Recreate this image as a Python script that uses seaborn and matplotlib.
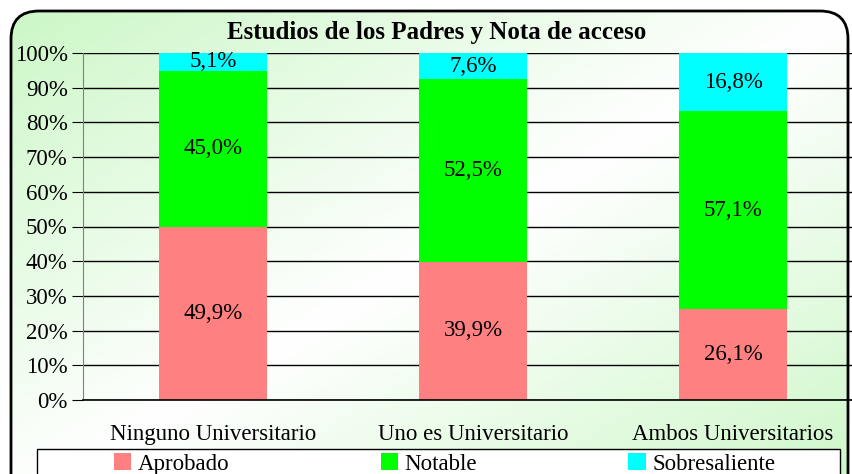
import numpy as np
import pandas as pd
import seaborn as sns
import matplotlib.pyplot as plt
from matplotlib.patches import FancyBboxPatch, Patch, Rectangle
from matplotlib.ticker import FixedLocator

# data
categorias = ["Ninguno Universitario", "Uno es Universitario", "Ambos Universitarios"]
aprobado = [49.9, 39.9, 26.1]
notable = [45.0, 52.5, 57.1]
sobresaliente = [5.1, 7.6, 16.8]
series = ["Aprobado", "Notable", "Sobresaliente"]
colores = ["#FF8080", "#00FF00", "#00FFFF"]

sns.set_style("white")
plt.rcParams["font.family"] = ["Liberation Serif", "DejaVu Serif"]
plt.rcParams["text.color"] = "black"
plt.rcParams["xtick.color"] = "black"
plt.rcParams["ytick.color"] = "black"

W, H = 852, 474
fig = plt.figure(figsize=(W / 100, H / 100), dpi=100)

# background: rounded frame with a soft diagonal green-white gradient
bg = fig.add_axes([0, 0, 1, 1], zorder=-5)
bg.set_xlim(0, W)
bg.set_ylim(0, H)
bg.axis("off")
xx, yy = np.meshgrid(np.linspace(0, 1, 200), np.linspace(0, 1, 120))
t = (xx + yy) / 2
w = np.abs(t - 0.5) * 2
green = np.array([0.80, 0.97, 0.78])
img = (1 - w[..., None]) * np.ones(3) + w[..., None] * green
frame = FancyBboxPatch((11, -30), 837, H - 10 + 30 - 1,
                       boxstyle="round,pad=0,rounding_size=28",
                       facecolor="none", edgecolor="black", linewidth=2)
bg.add_patch(frame)
im = bg.imshow(img, extent=(11, 848, -30, H - 11), origin="upper", aspect="auto")
im.set_clip_path(frame)

df = pd.DataFrame({"cat": categorias,
                   "Aprobado": aprobado,
                   "Notable": notable,
                   "Sobresaliente": sobresaliente})
df["c1"] = df["Aprobado"]
df["c2"] = df["c1"] + df["Notable"]
df["c3"] = df["c2"] + df["Sobresaliente"]

ax = fig.add_axes([83 / W, 1 - 400 / H, 780 / W, 347 / H])
ax.patch.set_alpha(0)
ax.yaxis.grid(True, color="black", linewidth=1)
ax.set_axisbelow(True)

for col, c in zip(["c3", "c2", "c1"], colores[::-1]):
    sns.barplot(data=df, x="cat", y=col, color=c, width=0.415,
                saturation=1, ax=ax, linewidth=0, zorder=2)

FS = 16.5
ax.set_xlim(-0.5, 2.5)
ax.set_ylim(0, 100)
ax.set_yticks(np.arange(0, 101, 10))
ax.set_yticklabels([f"{v}%" for v in range(0, 101, 10)], fontsize=FS)
ax.set_xlabel("")
ax.set_ylabel("")
ax.tick_params(axis="x", length=0, pad=17, labelsize=FS)
ax.xaxis.set_minor_locator(FixedLocator([0.5, 1.5]))
ax.tick_params(axis="x", which="minor", length=6, direction="out", color="gray")
ax.tick_params(axis="y", length=8, direction="out", color="black", pad=3, left=True)
for s in ["top", "right"]:
    ax.spines[s].set_visible(False)
ax.spines["left"].set_color("gray")
ax.spines["bottom"].set_color("black")
ax.spines["bottom"].set_linewidth(1.2)

def fmt(v):
    return f"{v:.1f}%".replace(".", ",")

for i in range(len(categorias)):
    bottoms = [0, df["c1"][i], df["c2"][i]]
    vals = [aprobado[i], notable[i], sobresaliente[i]]
    for b, v in zip(bottoms, vals):
        ax.text(i, b + v / 2, fmt(v), ha="center", va="center", fontsize=FS, zorder=5)

fig.text(437 / W, 1 - 33 / H, "Estudios de los Padres y Nota de acceso",
         ha="center", va="center", fontsize=18, fontweight="bold")

# legend box at the bottom (cut by the figure edge)
bg.add_patch(Rectangle((37, -20), 803, H - 449 + 20, facecolor="white",
                       edgecolor="black", linewidth=1))
handles = [Patch(facecolor=c, edgecolor="none") for c in colores]
fig.legend(handles, series, loc="lower left", bbox_to_anchor=(93 / W, -0.045),
           ncol=3, frameon=False, fontsize=FS, handlelength=0.75, handleheight=0.75,
           handletextpad=0.3, columnspacing=6.6)

fig.savefig("out.png", dpi=100)
